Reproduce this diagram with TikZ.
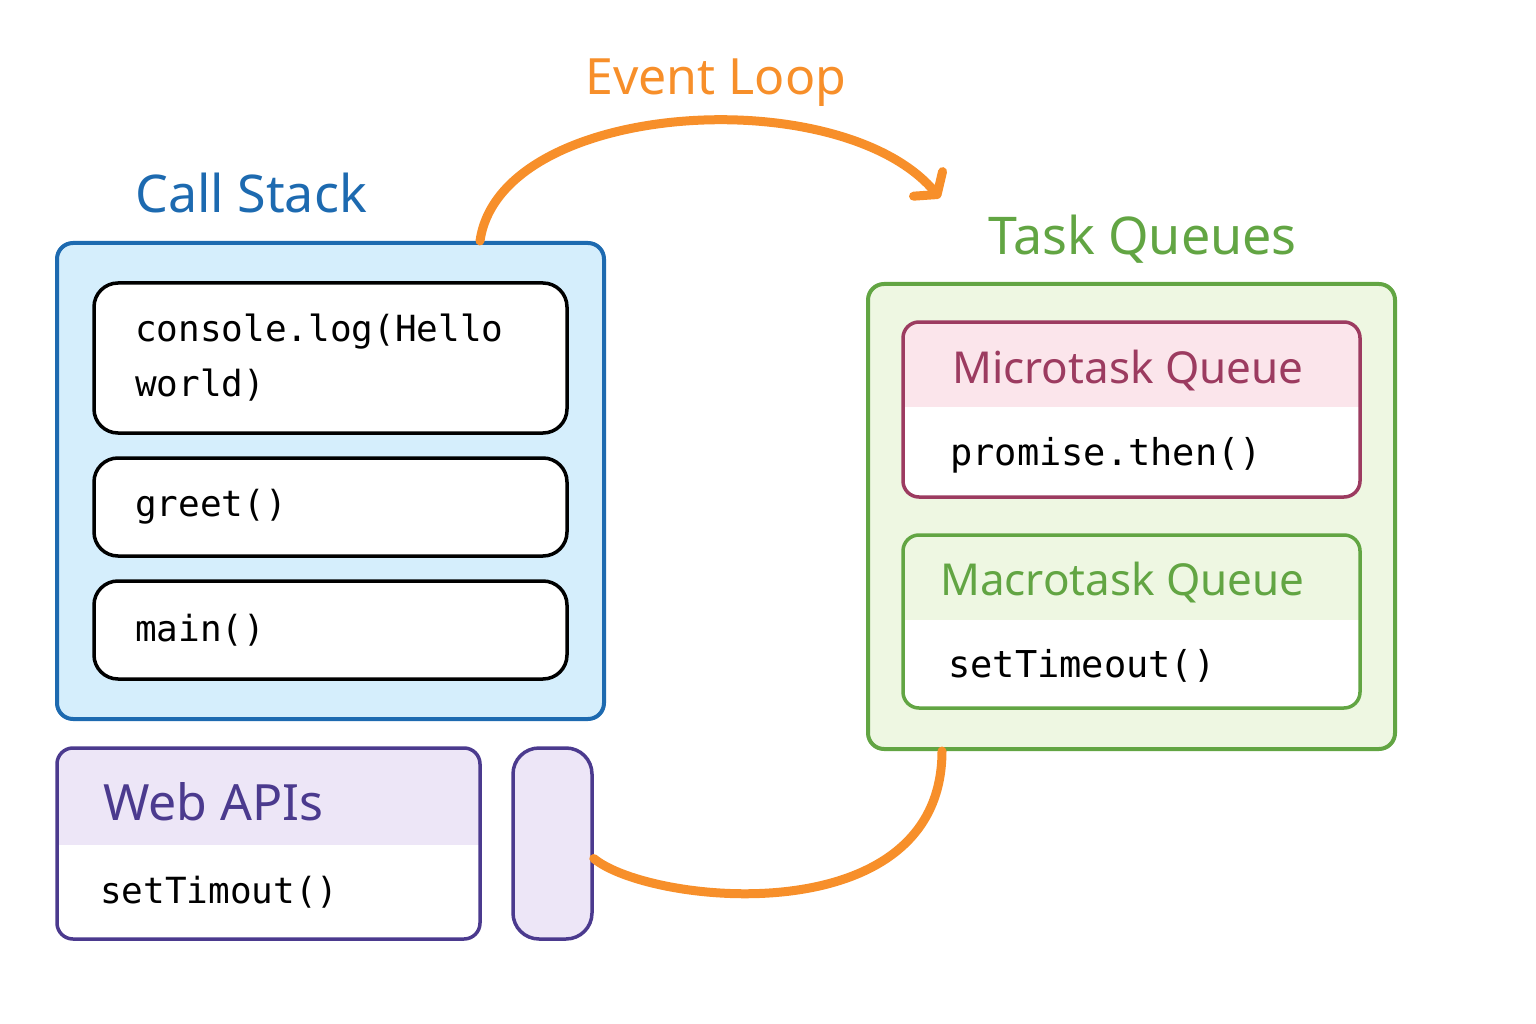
\documentclass[tikz,border=0pt]{standalone}
\usepackage{fontspec}
\setsansfont{Noto Sans}
\setmonofont{DejaVu Sans Mono}
\usetikzlibrary{arrows.meta}

\definecolor{stackblue}{HTML}{1D6AB0}
\definecolor{stackfill}{HTML}{D5EEFC}
\definecolor{loopor}{HTML}{F78F2A}
\definecolor{taskgreen}{HTML}{62A543}
\definecolor{taskfill}{HTML}{EEF7E2}
\definecolor{microred}{HTML}{9C3B60}
\definecolor{microfill}{HTML}{FBE5EB}
\definecolor{webpurple}{HTML}{4B3A8E}
\definecolor{webfill}{HTML}{EDE6F7}

\tikzset{
  title/.style={font=\sffamily\fontsize{52}{60}\selectfont, anchor=base west, inner sep=0pt},
  code/.style={font=\ttfamily\fontsize{36}{55}\selectfont, anchor=base west, inner sep=0pt},
  frame/.style={draw, rounded corners=16pt, line width=4pt},
  frame box/.style={draw=black, fill=white, rounded corners=24pt, line width=3.5pt,
    minimum width=473pt, align=left, text width=391pt, inner xsep=41pt,
    font=\ttfamily\fontsize{36}{55}\selectfont},
  head box/.style n args={3}{draw=#1, fill=white, rounded corners=16pt, line width=3.5pt,
    path picture={\fill[#2, sharp corners] (path picture bounding box.north west)
      rectangle ([yshift=-#3]path picture bounding box.north east);}},
  loop line/.style={draw=loopor, line width=9pt, line cap=round}
}

\begin{document}
\begin{tikzpicture}[x=1pt, y=-1pt]
\useasboundingbox (0,0) rectangle (1536,1024);

    % call stack
    \node[title, text=stackblue] (cstitle) at (135,213) {Call Stack};
    \node[frame, draw=stackblue, fill=stackfill, minimum width=547pt, minimum height=476pt] (cs) at (330.5,481) {};
    \node[frame box, minimum height=150pt] (csa) at (330.5,358) {console.log(Hello\\world)};
    \node[frame box, minimum height=98pt] (csb) at (330.5,507) {greet()};
    \node[frame box, minimum height=98pt] (csc) at (330.5,630) {main()};

    % web apis
    \node[head box={webpurple}{webfill}{97pt}, minimum width=423pt, minimum height=191pt] (web) at (268.5,843.5) {};
    \node[title, text=webpurple, font=\sffamily\fontsize{50}{60}\selectfont] (webtitle) at (103,820) {Web APIs};
    \node[code] (webcall) at (100,903) {setTimout()};
    \node[draw=webpurple, fill=webfill, rounded corners=26pt, line width=3.5pt,
      minimum width=79pt, minimum height=191pt] (slot) at (552.5,843.5) {};

    % task queues
    \node[title, text=taskgreen] (tqtitle) at (988,255) {Task Queues};
    \node[frame, draw=taskgreen, fill=taskfill, minimum width=527pt, minimum height=465pt] (tq) at (1131.5,516.5) {};
    \node[head box={microred}{microfill}{85pt}, minimum width=457pt, minimum height=175pt] (micro) at (1131.5,409.5) {};
    \node[title, text=microred, font=\sffamily\fontsize{44}{50}\selectfont] (microtitle) at (952,383) {Microtask Queue};
    \node[code, font=\ttfamily\fontsize{37}{50}\selectfont] (microcall) at (950,465) {promise.then()};
    \node[head box={taskgreen}{taskfill}{85pt}, minimum width=457pt, minimum height=173pt] (macro) at (1131.5,621.5) {};
    \node[title, text=taskgreen, font=\sffamily\fontsize{44}{50}\selectfont] (macrotitle) at (940,595) {Macrotask Queue};
    \node[code, font=\ttfamily\fontsize{37}{50}\selectfont] (macrocall) at (948,677) {setTimeout()};

    % event loop
    \node[title, text=loopor, font=\sffamily\fontsize{50}{60}\selectfont] (looptitle) at (585,95) {Event Loop};
    \coordinate (loopend) at (940,198);
    \draw[loop line, -{Straight Barb[round, length=14pt, width=38pt]}]
      ([xshift=149.5pt]cs.north) .. controls (500,100) and (840,80) .. (loopend);
    \draw[loop line]
      ([yshift=-15pt]slot.east) .. controls (650,905) and (942,935) .. ([xshift=-189.5pt]tq.south);

\end{tikzpicture}
\end{document}
